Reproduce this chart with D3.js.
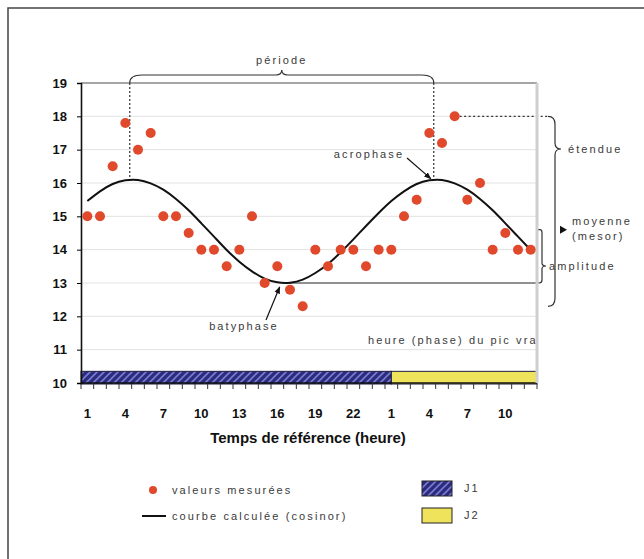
<!DOCTYPE html>
<html>
<head>
<meta charset="utf-8">
<script src="https://cdn.jsdelivr.net/npm/d3@7/dist/d3.min.js"></script>
<style>
  body { margin: 0; background: #fff; }
  svg { display: block; }
  .lbl { font-family: "Liberation Sans", Arial, sans-serif; font-size: 11px; letter-spacing: 2.1px; fill: #3a3a3a; }
</style>
</head>
<body>
<svg id="chart" width="644" height="559"></svg>
<script>
// heures de référence (J1 : 1-24, J2 : 1-12)
const hours = [1,2,3,4,5,6,7,8,9,10,11,12,13,14,15,16,17,18,19,20,21,22,23,24,
               1,2,3,4,5,6,7,8,9,10,11,12];
// valeurs mesurées
const measured = [15,15,16.5,17.8,17,17.5,15,15,14.5,14,14,13.5,14,15,13,13.5,12.8,12.3,14,13.5,14,14,13.5,14,
                  14,15,15.5,17.5,17.2,18,15.5,16,14,14.5,14,14];
// courbe calculée (cosinor)
const cosinor = [15.46,15.75,15.97,16.08,16.09,15.99,15.80,15.52,15.18,14.79,14.39,13.99,13.64,13.35,13.13,13.02,13.01,13.10,13.30,13.57,13.92,14.31,14.71,15.10,
                 15.46,15.75,15.97,16.08,16.09,15.99,15.80,15.52,15.18,14.79,14.39,13.99];
const yTicks = [10,11,12,13,14,15,16,17,18,19];
// jours (en positions de catégories)
const days = [{name:'J1', from:0, to:24.5}, {name:'J2', from:24.5, to:36}];
const dayTop = 10.35;
// paramètres cosinor
const mesor = 14.6, trough = 13.0, acroIdx = [3.85, 27.85], acroVal = 16.1;

const svg = d3.select('#chart');
const L = 81, R = 537, T = 83, B = 383;

const defs = svg.append('defs');
const pat = defs.append('pattern').attr('id','hatch').attr('patternUnits','userSpaceOnUse')
  .attr('width',7).attr('height',7);
pat.append('rect').attr('width',7).attr('height',7).attr('fill','#2c2c7e');
pat.append('path').attr('d','M-1,8 L8,-1 M-2,2 L2,-2 M5,9 L9,5').attr('stroke','#7a7ad0').attr('stroke-width',1.6);
defs.append('marker').attr('id','arr').attr('viewBox','0 0 10 10').attr('refX',9).attr('refY',5)
  .attr('markerWidth',6).attr('markerHeight',6).attr('orient','auto')
  .append('path').attr('d','M0,1 L10,5 L0,9 z').attr('fill','#111');

// cadre
svg.append('rect').attr('x',8).attr('y',8).attr('width',700).attr('height',600)
  .attr('fill','none').attr('stroke','#444').attr('stroke-width',1.5);

const x = d3.scaleBand().domain(d3.range(hours.length)).range([L,R]);
const xl = d3.scaleLinear().domain([0,hours.length]).range([L,R]);
const y = d3.scaleLinear().domain([10,19]).range([B,T]);
const cx = i => x(i) + x.bandwidth()/2;

// grille
svg.append('g').selectAll('line').data(yTicks.filter(d=>d>10 && d<19)).enter().append('line')
  .attr('x1',L).attr('x2',R).attr('y1',d=>y(d)).attr('y2',d=>y(d))
  .attr('stroke','#e2e2e2').attr('stroke-width',1);
svg.append('line').attr('x1',L).attr('x2',R).attr('y1',y(19)).attr('y2',y(19))
  .attr('stroke','#888').attr('stroke-width',1.3);

// bandes J1 / J2
svg.append('g').selectAll('rect').data(days).enter().append('rect')
  .attr('x',d=>xl(d.from)).attr('width',d=>xl(d.to)-xl(d.from))
  .attr('y',y(dayTop)).attr('height',y(10)-y(dayTop)+1)
  .attr('fill',d=>d.name==='J1'?'url(#hatch)':'#efe35c')
  .attr('stroke','#1c1c3c').attr('stroke-width',1);

// axes
const axY = svg.append('g').attr('transform','translate('+L+',0)')
  .call(d3.axisLeft(y).tickValues(yTicks).tickSize(4).tickPadding(10));
axY.select('.domain').attr('stroke','#111').attr('stroke-width',1.6);
axY.selectAll('text').style('font-family','Liberation Sans, Arial').style('font-size','13px')
  .style('font-weight','bold').attr('fill','#111');

const axX = svg.append('g').attr('transform','translate(0,'+B+')');
axX.append('line').attr('x1',L).attr('x2',R).attr('stroke','#111').attr('stroke-width',1.6);
axX.selectAll('line.tk').data(d3.range(hours.length+1)).enter().append('line').attr('class','tk')
  .attr('x1',d=>xl(d)).attr('x2',d=>xl(d)).attr('y1',1).attr('y2',6).attr('stroke','#333');
axX.selectAll('text').data(d3.range(hours.length).filter(i=>i%3===0)).enter().append('text')
  .attr('x',d=>cx(d)).attr('y',35).attr('text-anchor','middle')
  .style('font-family','Liberation Sans, Arial').style('font-size','13px').style('font-weight','bold')
  .attr('fill','#111').text(d=>hours[d]);
svg.append('text').attr('x',308).attr('y',443).attr('text-anchor','middle')
  .style('font-family','Liberation Sans, Arial').style('font-size','15px').style('font-weight','bold')
  .attr('fill','#111').text('Temps de référence (heure)');

// annotations
const ann = svg.append('g').attr('fill','none').attr('stroke','#333').attr('stroke-width',1.2);
const a1 = xl(acroIdx[0]), a2 = xl(acroIdx[1]), am = (a1+a2)/2;
ann.append('path').attr('d','M'+a1+','+T+' Q'+a1+',75 '+(a1+12)+',75 L'+(am-6)+',75 Q'+am+',75 '+am+',70 Q'+am+',75 '+(am+6)+',75 L'+(a2-12)+',75 Q'+a2+',75 '+a2+','+T);
[a1,a2].forEach(a=>ann.append('line').attr('x1',a).attr('x2',a).attr('y1',T).attr('y2',y(acroVal))
  .attr('stroke-dasharray','2,2'));
svg.append('text').attr('class','lbl').attr('x',am).attr('y',64).attr('text-anchor','middle').text('période');

// étendue
const yMax = y(d3.max(measured)), yMin = y(d3.min(measured));
const iMax = measured.indexOf(d3.max(measured));
ann.append('line').attr('x1',cx(iMax)+5).attr('x2',548).attr('y1',yMax).attr('y2',yMax).attr('stroke-dasharray','2,2.5');
ann.append('path').attr('d','M548,'+yMax+' Q555,'+yMax+' 555,'+(yMax+8)+' L555,143 Q555,149 561,149 Q555,149 555,155 L555,'+(yMin-8)+' Q555,'+yMin+' 548,'+yMin);
svg.append('text').attr('class','lbl').attr('x',568).attr('y',153).text('étendue');

// amplitude
const yMes = y(mesor), yTr = y(trough);
ann.append('path').attr('d','M'+R+','+yMes+' L540,'+yMes+' Q542,'+yMes+' 542,'+(yMes+3)+' L542,263 Q542,266 546,266 Q542,266 542,269 L542,'+(yTr-3)+' Q542,'+yTr+' 539,'+yTr+' L'+xl(16)+','+yTr);
svg.append('text').attr('class','lbl').attr('x',549).attr('y',270).text('amplitude');

// moyenne
svg.append('path').attr('d','M560,'+(yMes-4)+' L567,'+yMes+' L560,'+(yMes+4)+' z').attr('fill','#111');
svg.append('text').attr('class','lbl').attr('x',572).attr('y',yMes-5).text('moyenne');
svg.append('text').attr('class','lbl').attr('x',572).attr('y',yMes+10).text('(mesor)');

// acrophase / batyphase
svg.append('line').attr('x1',407).attr('y1',158).attr('x2',a2-3).attr('y2',y(acroVal)-1)
  .attr('stroke','#111').attr('stroke-width',1.2).attr('marker-end','url(#arr)');
svg.append('text').attr('class','lbl').attr('x',369).attr('y',158).attr('text-anchor','middle').text('acrophase');
svg.append('line').attr('x1',266).attr('y1',320).attr('x2',xl(16)-4).attr('y2',yTr+4)
  .attr('stroke','#111').attr('stroke-width',1.2).attr('marker-end','url(#arr)');
svg.append('text').attr('class','lbl').attr('x',244).attr('y',330).attr('text-anchor','middle').text('batyphase');

defs.append('clipPath').attr('id','clipPlot').append('rect').attr('x',L).attr('y',T).attr('width',R-L-1).attr('height',B-T);
svg.append('text').attr('class','lbl').attr('x',368).attr('y',344).attr('clip-path','url(#clipPlot)')
  .text('heure (phase) du pic vrai');

// bord droit de la zone de tracé
svg.append('line').attr('x1',R).attr('x2',R).attr('y1',y(19)).attr('y2',B)
  .attr('stroke','#cfcfcf').attr('stroke-width',3);

// courbe
const line = d3.line().x((d,i)=>cx(i)).y(d=>y(d)).curve(d3.curveNatural);
svg.append('path').datum(cosinor).attr('d',line).attr('fill','none').attr('stroke','#111').attr('stroke-width',2);

// points
svg.append('g').selectAll('circle').data(measured).enter().append('circle')
  .attr('cx',(d,i)=>cx(i)).attr('cy',d=>y(d)).attr('r',5).attr('fill','#e0492b');

// légende
const lg = svg.append('g');
lg.append('circle').attr('cx',153).attr('cy',490).attr('r',4).attr('fill','#e0492b');
lg.append('line').attr('x1',142).attr('x2',166).attr('y1',516).attr('y2',516).attr('stroke','#111').attr('stroke-width',2);
lg.append('text').attr('class','lbl').attr('x',172).attr('y',494).text('valeurs mesurées');
lg.append('text').attr('class','lbl').attr('x',172).attr('y',520).text('courbe calculée (cosinor)');
lg.selectAll('rect').data(days).enter().append('rect')
  .attr('x',422).attr('y',(d,i)=>481+i*27).attr('width',30).attr('height',15)
  .attr('fill',d=>d.name==='J1'?'url(#hatch)':'#efe35c').attr('stroke','#222').attr('stroke-width',1);
lg.selectAll('text.dl').data(days).enter().append('text').attr('class','lbl dl')
  .attr('x',464).attr('y',(d,i)=>492+i*27).text(d=>d.name);
</script>
</body>
</html>
